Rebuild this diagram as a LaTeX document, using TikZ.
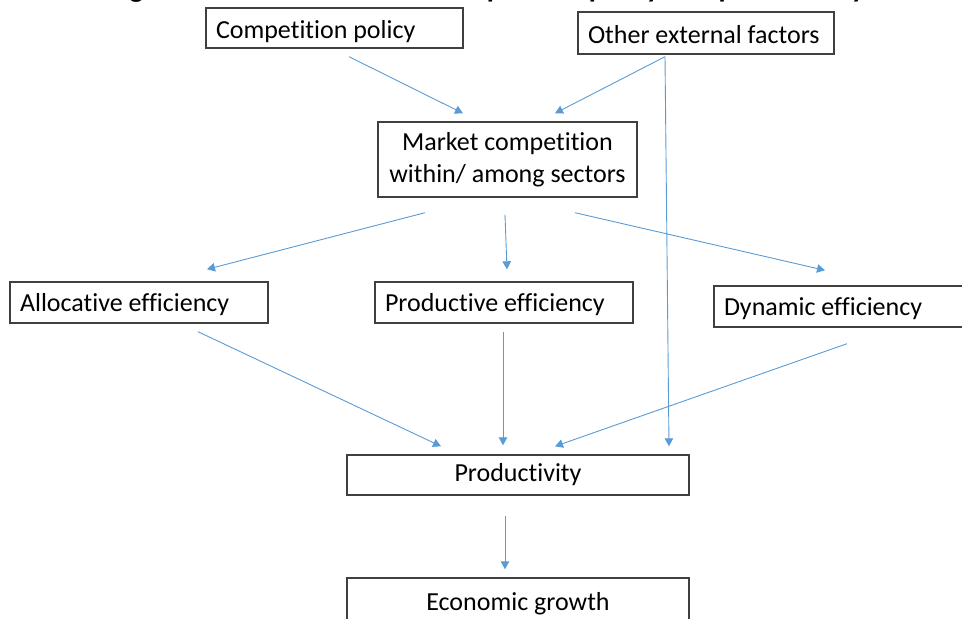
\documentclass[tikz,border=0pt]{standalone}
\usepackage{fontspec}
\setmainfont{Carlito}[Ligatures=NoCommon]
\usetikzlibrary{arrows.meta}
\definecolor{linkblue}{HTML}{5B9BD5}
\definecolor{framegray}{HTML}{404040}
\begin{document}
\begin{tikzpicture}[x=1pt,y=-1pt,
  box/.style={draw=framegray, line width=1.4pt, inner ysep=0pt,
    font=\fontsize{26}{32}\selectfont},
  lbox/.style={box, align=flush left, inner xsep=10pt},
  cbox/.style={box, align=flush center, inner xsep=0pt},
  lowtext/.style={text height=27pt, text depth=6pt},
  midtext/.style={text height=23pt, text depth=6pt},
  link/.style={draw=linkblue, line width=0.9pt,
    -{Triangle[length=8pt,width=8.5pt]}}]
\useasboundingbox (0,0) rectangle (962,619);

% heading (only its lowest part falls on the page)
\node[anchor=base west, inner sep=0pt, font=\bfseries\fontsize{29}{32}\selectfont]
  (heading) at (109,-2.5) {Figure 1: The link between competition policy and productivity};

% boxes (box width = text width + 20pt)
\node[lbox, lowtext, text width=237pt, minimum height=40pt] (cp)  at (334.5,28) {Competition policy};
\node[lbox, lowtext, text width=236pt, minimum height=42pt] (oef) at (706,33) {Other external factors};
\node[cbox, text width=259pt, minimum height=75pt] (mc)  at (507.5,159.5) {Market competition\\within/ among sectors};
\node[lbox, midtext, text width=238pt, minimum height=41pt] (ae)  at (139,302.5) {Allocative efficiency};
\node[lbox, midtext, text width=238pt, minimum height=41pt] (pe)  at (504,302.5) {Productive efficiency};
\node[lbox, midtext, text width=238pt, minimum height=41pt] (de)  at (843,306.5) {Dynamic efficiency};
\node[cbox, text width=342pt, minimum height=40pt] (pr)  at (518,475) {Productivity};
\node[cbox, text width=342pt, minimum height=52pt] (eg)  at (518,604) {Economic growth};

% connectors
\draw[link] ([shift={(14.5,8)}]cp.south)  -- ([shift={(-44.5,-8)}]mc.north);
\draw[link] ([shift={(-41,2)}]oef.south)  -- ([shift={(47.5,-8)}]mc.north);
\draw[link] ([shift={(-41,2)}]oef.south)  -- ([shift={(151,-8)}]pr.north);
\draw[link] ([shift={(-82.5,15)}]mc.south) -- ([shift={(68,-12)}]ae.north);
\draw[link] ([shift={(-2.5,17)}]mc.south) -- ([shift={(3,-12)}]pe.north);
\draw[link] ([shift={(67.5,15)}]mc.south) -- ([shift={(-18,-15)}]de.north);
\draw[link] ([shift={(59,8)}]ae.south)    -- ([shift={(-77,-8)}]pr.north);
\draw[link] ([shift={(-1,8)}]pe.south)    -- ([shift={(-15,-9)}]pr.north);
\draw[link] ([shift={(4,16)}]de.south)    -- ([shift={(37,-8)}]pr.north);
\draw[link] ([shift={(-13,20)}]pr.south)  -- ([shift={(-13,-8)}]eg.north);
\end{tikzpicture}
\end{document}
